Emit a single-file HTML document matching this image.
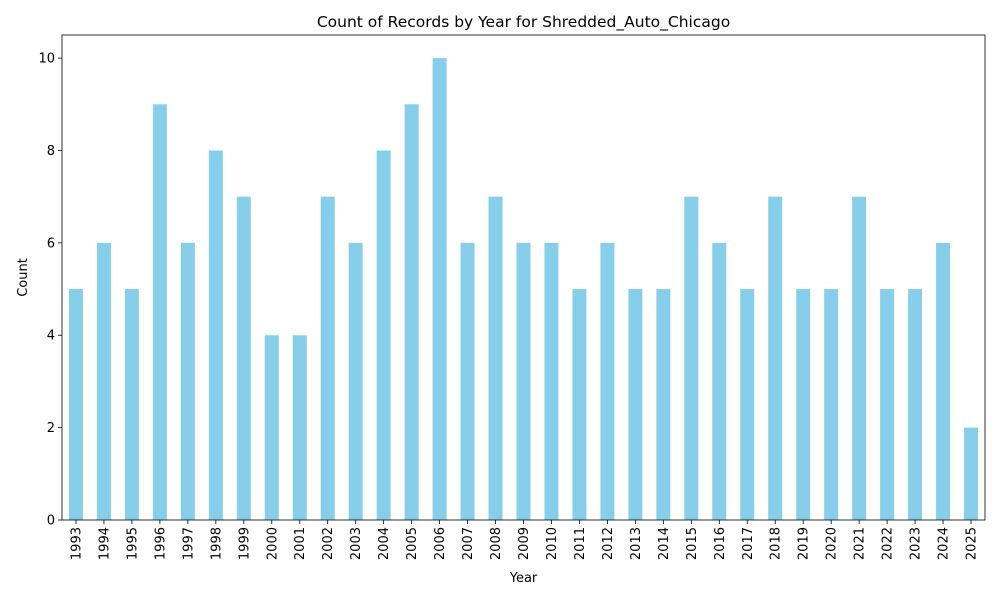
<!DOCTYPE html>
<html><head><meta charset="utf-8"><style>
body{margin:0;background:#fff;}
svg{display:block;font-family:"DejaVu Sans","Liberation Sans",sans-serif;}
</style></head><body>
<svg id="chart" width="1000" height="600"></svg>
<script>
const years=[1993,1994,1995,1996,1997,1998,1999,2000,2001,2002,2003,2004,2005,2006,2007,2008,2009,2010,2011,2012,2013,2014,2015,2016,2017,2018,2019,2020,2021,2022,2023,2024,2025];
const counts=[5,6,5,9,6,8,7,4,4,7,6,8,9,10,6,7,6,6,5,6,5,5,7,6,5,7,5,5,7,5,5,6,2];
const yTicks=[0,2,4,6,8,10];
const NS="http://www.w3.org/2000/svg";
const svg=document.getElementById('chart');
const L=62,R=985,T=35,B=520,yMax=10.5;
const step=(R-L)/years.length;
const x=i=>L+step*(i+0.5);
const y=v=>B-(v/yMax)*(B-T);
function mk(tag,attrs,parent){const e=document.createElementNS(NS,tag);for(const k in attrs)e.setAttribute(k,attrs[k]);(parent||svg).appendChild(e);return e;}
counts.forEach((v,i)=>{
 const r=mk('rect',{x:x(i)-step*0.25,y:y(v),width:step*0.5,height:B-y(v),fill:'#87ceeb'});
 
 
 mk('line',{x1:x(i),x2:x(i),y1:B,y2:B+4,stroke:'#000','stroke-width':0.8});
 const t=mk('text',{x:0,y:0,'font-size':13,'text-anchor':'end',transform:`translate(${x(i)+4.5},${B+7}) rotate(-90)`});
 t.textContent=years[i];
 
 
});
yTicks.forEach(v=>{
 mk('line',{x1:L-4,x2:L,y1:y(v),y2:y(v),stroke:'#000','stroke-width':0.8});
 const t=mk('text',{x:L-7,y:y(v)+4.5,'font-size':13,'text-anchor':'end'});
 t.textContent=v;
 
 
});
const f=mk('rect',{x:L,y:T,width:R-L,height:B-T,fill:'none',stroke:'#000','stroke-width':0.8});


const ti=mk('text',{x:(L+R)/2,y:27,'font-size':15.5,'text-anchor':'middle'});ti.textContent='Count of Records by Year for Shredded_Auto_Chicago';


const xt=mk('text',{x:(L+R)/2,y:582,'font-size':13,'text-anchor':'middle'});xt.textContent='Year';


const yt=mk('text',{x:0,y:0,'font-size':13,'text-anchor':'middle',transform:`translate(27,${(T+B)/2}) rotate(-90)`});yt.textContent='Count';


</script>
</body></html>
